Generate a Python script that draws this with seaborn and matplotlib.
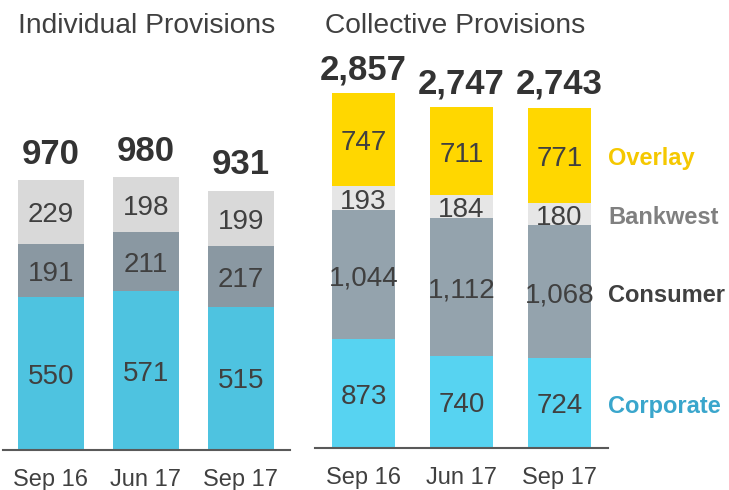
import seaborn as sns
import matplotlib.pyplot as plt
import numpy as np
import pandas as pd

sns.set_style("white")
plt.rcParams['font.family'] = ['Liberation Sans', 'DejaVu Sans']

# data
periods = ["Sep 16", "Jun 17", "Sep 17"]

# Individual provisions
ind_corporate = [550, 571, 515]
ind_consumer = [191, 211, 217]
ind_other = [229, 198, 199]

# Collective provisions
col_corporate = [873, 740, 724]
col_consumer = [1044, 1112, 1068]
col_bankwest = [193, 184, 180]
col_overlay = [747, 711, 771]
col_totals = [2857, 2747, 2743]

seg_names = ["Corporate", "Consumer", "Bankwest", "Overlay"]
name_colors = ["#3AA6CC", "#404040", "#808080", "#F5C800"]

txt = "#404040"


def stacked(ax, layers, colors, width, totals, total_pad):
    cum = np.cumsum(np.array(layers), axis=0)
    # draw tallest stack first, then paint lower layers over it
    for i in range(len(layers) - 1, -1, -1):
        df = pd.DataFrame({"period": periods, "value": cum[i]})
        sns.barplot(data=df, x="period", y="value", color=colors[i],
                    width=width, saturation=1, ax=ax, edgecolor="none")
    for i, layer in enumerate(layers):
        for j, v in enumerate(layer):
            mid = cum[i][j] - v / 2
            ax.annotate(f"{v:,}", (j, mid), xytext=(0, -2.5), textcoords="offset points",
                        ha="center", va="center", fontsize=20, color=txt)
    for j, t in enumerate(totals):
        ax.annotate(f"{t:,}", (j, cum[-1][j]), xytext=(0, total_pad),
                    textcoords="offset points", ha="center", va="baseline",
                    fontsize=25, fontweight="bold", color="#333333")
    sns.despine(ax=ax, left=True, top=True, right=True)
    ax.spines["bottom"].set_color("#595959")
    ax.spines["bottom"].set_linewidth(1.5)
    ax.set_yticks([])
    ax.set_xlabel("")
    ax.set_ylabel("")
    ax.tick_params(axis="x", length=0, pad=14, labelsize=17, labelcolor=txt)
    return cum


fig = plt.figure(figsize=(7.29, 4.9), dpi=100)
W, H = 729, 490

ax1 = fig.add_axes([3 / W, 1 - 449.5 / H, 287 / W, 409.5 / H])
ax2 = fig.add_axes([315 / W, 1 - 447.7 / H, 293 / W, 407.7 / H])

ind_totals = [a + b + c for a, b, c in zip(ind_corporate, ind_consumer, ind_other)]
stacked(ax1, [ind_corporate, ind_consumer, ind_other],
        ["#4EC3E0", "#8A98A2", "#D9D9D9"], 0.7, ind_totals, 12)
ax1.set_ylim(0, 1475)
ax1.set_xlim(-0.505, 2.516)

cum2 = stacked(ax2, [col_corporate, col_consumer, col_bankwest, col_overlay],
               ["#57D3F1", "#94A3AD", "#E6E6E6", "#FFD700"], 0.64, col_totals, 10)
ax2.set_ylim(0, 3288)
ax2.set_xlim(-0.495, 2.495)

# series names beside the last bar
last = len(periods) - 1
for i, name in enumerate(seg_names):
    top = cum2[i][last]
    bot = cum2[i - 1][last] if i > 0 else 0
    ax2.annotate(name, (2.5, (top + bot) / 2), xytext=(0, -2.5), textcoords="offset points",
                 ha="left", va="center", fontsize=17, fontweight="bold",
                 color=name_colors[i], annotation_clip=False)

fig.text(18 / W, 1 - 26 / H, "Individual Provisions", fontsize=20.3, color=txt,
         ha="left", va="center")
fig.text(325 / W, 1 - 26 / H, "Collective Provisions", fontsize=20.3, color=txt,
         ha="left", va="center")

fig.savefig("out.png", dpi=100)
